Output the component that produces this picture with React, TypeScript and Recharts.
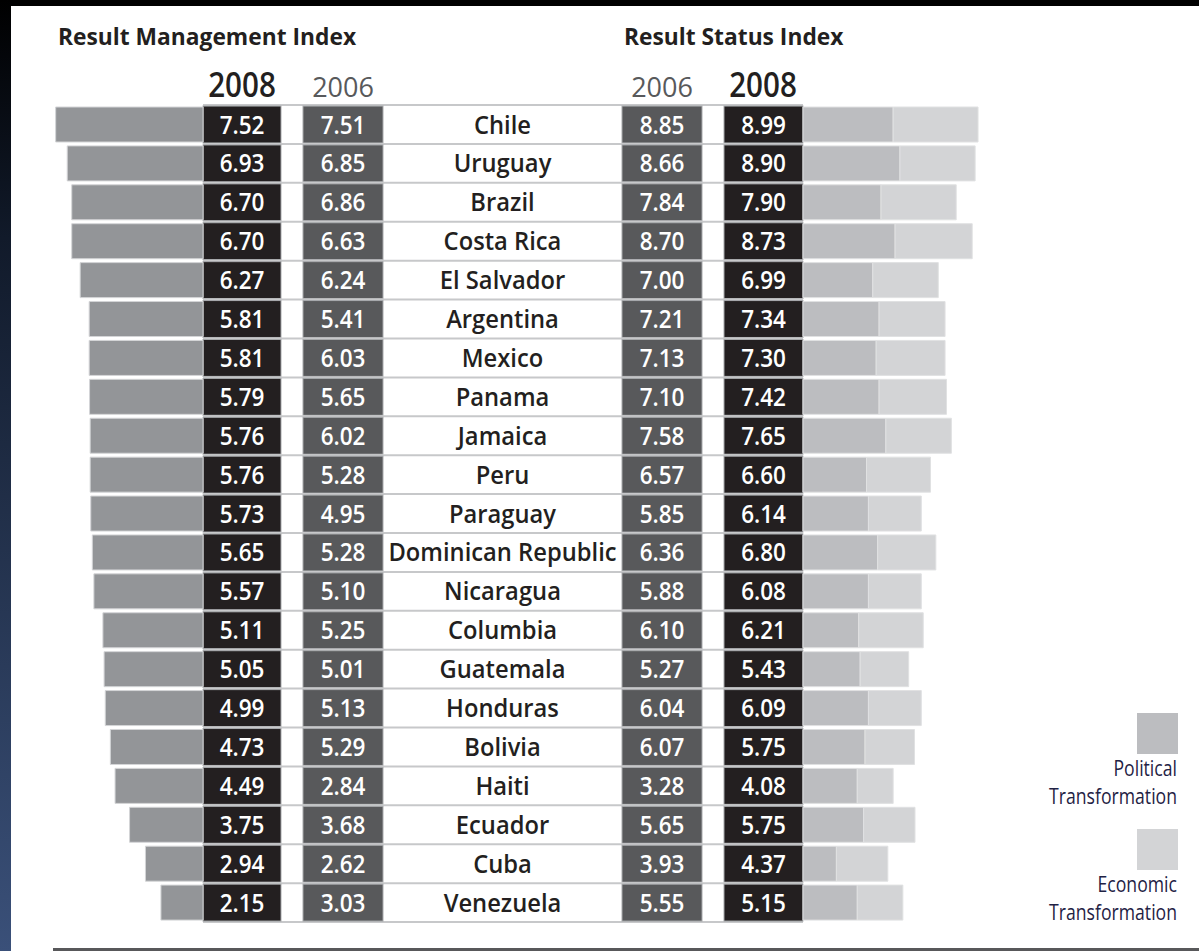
import React from "react";
import { ComposedChart, Bar, XAxis, YAxis } from "recharts";

const countries = [
  "Chile", "Uruguay", "Brazil", "Costa Rica", "El Salvador", "Argentina", "Mexico",
  "Panama", "Jamaica", "Peru", "Paraguay", "Dominican Republic", "Nicaragua", "Columbia",
  "Guatemala", "Honduras", "Bolivia", "Haiti", "Ecuador", "Cuba", "Venezuela",
];
const rmi2008 = [7.52, 6.93, 6.70, 6.70, 6.27, 5.81, 5.81, 5.79, 5.76, 5.76, 5.73, 5.65, 5.57, 5.11, 5.05, 4.99, 4.73, 4.49, 3.75, 2.94, 2.15];
const rmi2006 = [7.51, 6.85, 6.86, 6.63, 6.24, 5.41, 6.03, 5.65, 6.02, 5.28, 4.95, 5.28, 5.10, 5.25, 5.01, 5.13, 5.29, 2.84, 3.68, 2.62, 3.03];
const rsi2006 = [8.85, 8.66, 7.84, 8.70, 7.00, 7.21, 7.13, 7.10, 7.58, 6.57, 5.85, 6.36, 5.88, 6.10, 5.27, 6.04, 6.07, 3.28, 5.65, 3.93, 5.55];
const rsi2008 = [8.99, 8.90, 7.90, 8.73, 6.99, 7.34, 7.30, 7.42, 7.65, 6.60, 6.14, 6.80, 6.08, 6.21, 5.43, 6.09, 5.75, 4.08, 5.75, 4.37, 5.15];
// political / economic transformation (stacked bars on the right)
const political = [9.3, 10.0, 8.05, 9.5, 7.2, 7.85, 7.55, 7.85, 8.55, 6.55, 6.75, 7.7, 6.75, 5.75, 5.9, 6.75, 6.4, 5.6, 6.25, 3.45, 5.6];
const economic = [8.75, 7.75, 7.75, 7.95, 6.75, 6.8, 7.1, 6.95, 6.75, 6.6, 5.45, 6.0, 5.45, 6.65, 5.0, 5.45, 5.1, 3.7, 5.3, 5.3, 4.7];

const legendItems = [
  { key: "political", lines: ["Political", "Transformation"], color: "#bcbdc0" },
  { key: "economic", lines: ["Economic", "Transformation"], color: "#d3d4d6" },
];

const rows = countries.map((country, i) => ({
  country,
  rmi2008: rmi2008[i],
  rmi2006: rmi2006[i],
  rsi2006: rsi2006[i],
  rsi2008: rsi2008[i],
  political: political[i],
  economic: economic[i],
}));

const W = 1199;
const H = 951;
const MARGIN = { top: 105, bottom: 29, left: 0, right: 0 };
const ROW_H = (H - MARGIN.top - MARGIN.bottom) / rows.length;
const FONT = "'Open Sans', 'Noto Sans', sans-serif";

const DARK = "#231f20";
const MID = "#58595b";

// condensed-looking text: horizontal squeeze around the anchor
const CText = ({ x, y, sx = 0.88, size, weight = 400, fill, anchor = "start", children }: any) => (
  <text
    transform={`translate(${x},${y}) scale(${sx},1)`}
    textAnchor={anchor}
    fontSize={size}
    fontWeight={weight}
    fill={fill}
    fontFamily={FONT}
  >
    {children}
  </text>
);

// draws the table part of one row (value cells + country name), positioned by the band scale
const RowShape = (props: any) => {
  const { y, height, index } = props;
  const r = rows[index];
  const yc = y + height / 2;
  const top = yc - ROW_H / 2;
  const cell = (x0: number, x1: number, fill: string, val: number) => (
    <g>
      <rect x={x0} y={top + 1} width={x1 - x0} height={ROW_H - 2} fill={fill} stroke="#a7a9ac" strokeWidth={1} />
      <CText x={(x0 + x1) / 2} y={yc + 9} size={25} weight={600} fill="#fff" anchor="middle" sx={0.9}>
        {val.toFixed(2)}
      </CText>
    </g>
  );
  return (
    <g>
      <line x1={203} x2={803} y1={top} y2={top} stroke="#c7c8ca" strokeWidth={2} />
      {index === rows.length - 1 && <line x1={203} x2={803} y1={top + ROW_H} y2={top + ROW_H} stroke="#c7c8ca" strokeWidth={2} />}
      {cell(203, 281, DARK, r.rmi2008)}
      {cell(303, 383, MID, r.rmi2006)}
      <CText x={502.5} y={yc + 9} size={25} weight={600} fill={DARK} anchor="middle" sx={0.95}>
        {r.country}
      </CText>
      {cell(622, 702, MID, r.rsi2006)}
      {cell(724, 803, DARK, r.rsi2008)}
    </g>
  );
};

export default function App() {
  return (
    <div style={{ position: "relative", width: W, height: H, background: "#fff", overflow: "hidden" }}>
      <style>{`body{margin:0}`}</style>
      <div style={{ position: "absolute", left: 0, top: 0, width: W, height: 6, background: "#000" }} />
      <div style={{ position: "absolute", left: 0, top: 0, width: 11, height: H, background: "linear-gradient(#000 0%, #111a2a 25%, #2a3b5a 70%, #3a5079 100%)" }} />
      <div style={{ position: "absolute", left: 53, top: 948, width: W - 53, height: 3, background: "#58585a" }} />

      <div style={{ position: "absolute", left: 0, top: 0 }}>
        <ComposedChart width={W} height={H} data={rows} layout="vertical" margin={MARGIN} barCategoryGap={2}>
          <YAxis yAxisId="l" type="category" dataKey="country" hide />
          <YAxis yAxisId="r" type="category" dataKey="country" hide />
          <YAxis yAxisId="c" type="category" dataKey="country" hide />
          <XAxis xAxisId="rmi" type="number" reversed hide allowDataOverflow domain={[-50.81, 10.36]} />
          <XAxis xAxisId="bti" type="number" hide allowDataOverflow domain={[-82.78, 40.83]} />
          <Bar yAxisId="c" xAxisId="bti" dataKey="rsi2008" shape={(p: any) => <RowShape {...p} />} isAnimationActive={false} />
          <Bar yAxisId="l" xAxisId="rmi" dataKey="rmi2008" fill="#939598" stroke="#d4d5d7" strokeWidth={1} isAnimationActive={false} />
          <Bar yAxisId="r" xAxisId="bti" dataKey="political" stackId="bti" fill={legendItems[0].color} stroke="#e0e1e2" strokeWidth={1} isAnimationActive={false} />
          <Bar yAxisId="r" xAxisId="bti" dataKey="economic" stackId="bti" fill={legendItems[1].color} stroke="#e0e1e2" strokeWidth={1} isAnimationActive={false} />
        </ComposedChart>
      </div>

      <svg width={W} height={H} style={{ position: "absolute", left: 0, top: 0, pointerEvents: "none" }}>
        <CText x={58} y={45} size={24} weight={700} fill={DARK} sx={0.95}>Result Management Index</CText>
        <CText x={624} y={45} size={24} weight={700} fill={DARK} sx={0.95}>Result Status Index</CText>
        <CText x={242} y={97} size={34} weight={600} fill={DARK} anchor="middle" sx={0.87}>2008</CText>
        <CText x={343} y={97} size={27} fill={MID} anchor="middle" sx={1.0}>2006</CText>
        <CText x={662} y={97} size={27} fill={MID} anchor="middle" sx={1.0}>2006</CText>
        <CText x={763} y={97} size={34} weight={600} fill={DARK} anchor="middle" sx={0.87}>2008</CText>
        {legendItems.map((it, k) => {
          const top = 713 + k * 116;
          return (
            <g key={it.key}>
              <rect x={1137} y={top} width={41} height={41} fill={it.color} />
              {it.lines.map((ln, j) => (
                <CText key={j} x={1177} y={top + 63 + j * 28} size={21} fill="#1f2244" anchor="end" sx={0.84}>{ln}</CText>
              ))}
            </g>
          );
        })}
      </svg>
    </div>
  );
}
